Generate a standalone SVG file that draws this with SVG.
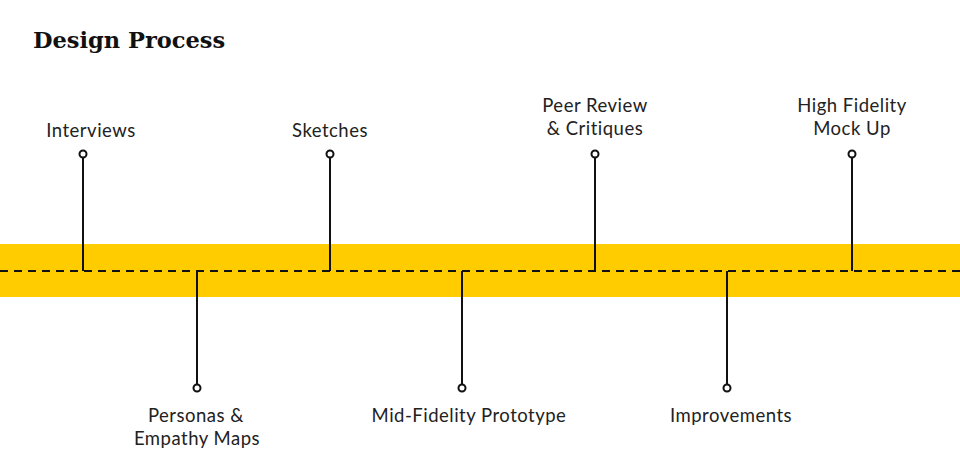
<svg xmlns="http://www.w3.org/2000/svg" width="960" height="474" viewBox="0 0 960 474">
<style>
.lbl{font-family:"Lato","Open Sans","Liberation Sans",sans-serif;font-size:18.5px;letter-spacing:0.5px;fill:#222;text-anchor:middle}
.title{font-family:"DejaVu Serif","Liberation Serif",serif;font-size:22.5px;font-weight:bold;fill:#111}
.stem{stroke:#111;stroke-width:2;fill:none}
.dot{stroke:#111;stroke-width:2;fill:#fff}
</style>
<rect width="960" height="474" fill="#fff"/>
<text class="title" x="33" y="48">Design Process</text>
<rect x="0" y="244" width="960" height="53" fill="#FFCC00"/>
<g id="connectors">
<line x1="0" y1="271" x2="960" y2="271" stroke="#111" stroke-width="2" stroke-dasharray="8,6"/>
<line class="stem" x1="83" y1="157" x2="83" y2="271"/>
<line class="stem" x1="197" y1="271" x2="197" y2="385"/>
<line class="stem" x1="330" y1="157" x2="330" y2="271"/>
<line class="stem" x1="462" y1="271" x2="462" y2="385"/>
<line class="stem" x1="595" y1="157" x2="595" y2="271"/>
<line class="stem" x1="727" y1="271" x2="727" y2="385"/>
<line class="stem" x1="852" y1="157" x2="852" y2="271"/>
</g>
<g id="interviews"><circle class="dot" cx="83" cy="154" r="3.5"/><text class="lbl" x="91" y="137">Interviews</text></g>
<g id="personas"><circle class="dot" cx="197" cy="388" r="3.5"/><text class="lbl" x="196" y="422">Personas &amp;</text><text class="lbl" x="197" y="445">Empathy Maps</text></g>
<g id="sketches"><circle class="dot" cx="330" cy="154" r="3.5"/><text class="lbl" x="330" y="137">Sketches</text></g>
<g id="midfi"><circle class="dot" cx="462" cy="388" r="3.5"/><text class="lbl" x="469" y="422">Mid-Fidelity Prototype</text></g>
<g id="peer"><circle class="dot" cx="595" cy="154" r="3.5"/><text class="lbl" x="595" y="112">Peer Review</text><text class="lbl" x="595" y="135">&amp; Critiques</text></g>
<g id="improvements"><circle class="dot" cx="727" cy="388" r="3.5"/><text class="lbl" x="731" y="422">Improvements</text></g>
<g id="hifi"><circle class="dot" cx="852" cy="154" r="3.5"/><text class="lbl" x="852" y="112">High Fidelity</text><text class="lbl" x="852" y="135">Mock Up</text></g>
</svg>
